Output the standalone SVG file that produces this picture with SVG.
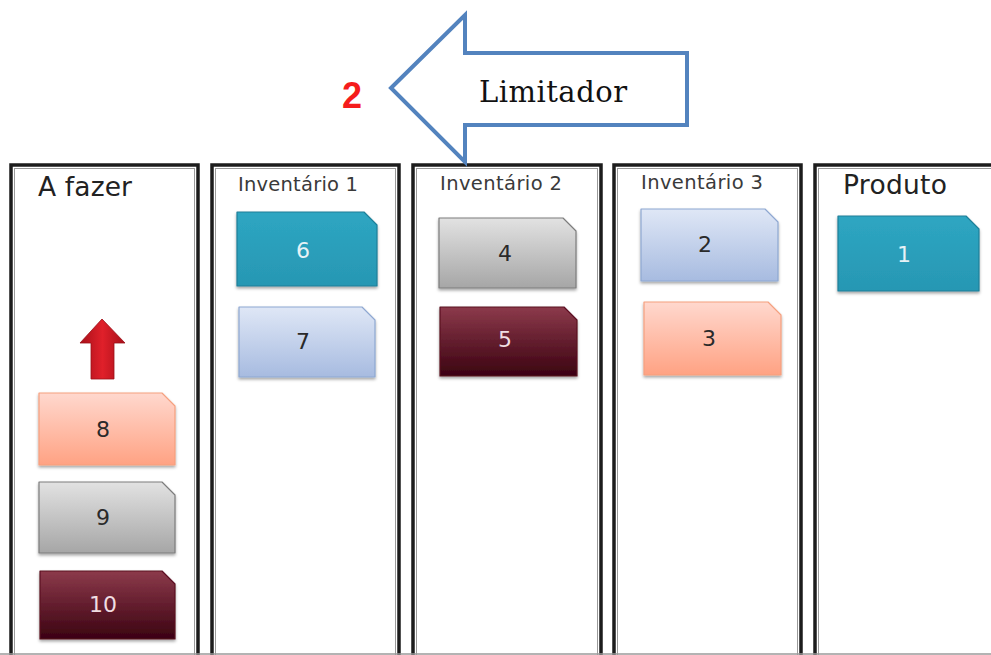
<svg xmlns="http://www.w3.org/2000/svg" width="991" height="655" viewBox="0 0 991 655">
<defs>
<linearGradient id="gTeal" x1="0" y1="0" x2="0" y2="1"><stop offset="0" stop-color="#2ea6c2"/><stop offset="1" stop-color="#2797b3"/></linearGradient>
<linearGradient id="gBlue" x1="0" y1="0" x2="0" y2="1"><stop offset="0" stop-color="#dfe7f6"/><stop offset="1" stop-color="#a7bbe0"/></linearGradient>
<linearGradient id="gSalmon" x1="0" y1="0" x2="0" y2="1"><stop offset="0" stop-color="#ffd8ce"/><stop offset="1" stop-color="#ffa283"/></linearGradient>
<linearGradient id="gGray" x1="0" y1="0" x2="0" y2="1"><stop offset="0" stop-color="#e2e2e2"/><stop offset="1" stop-color="#a6a6a6"/></linearGradient>
<linearGradient id="gMaroon" x1="0" y1="0" x2="0" y2="1"><stop offset="0" stop-color="#8c3a4b"/><stop offset="1" stop-color="#3b0211"/></linearGradient>
<linearGradient id="gRed" x1="0" y1="0" x2="1" y2="0"><stop offset="0" stop-color="#a8101a"/><stop offset="0.5" stop-color="#e0202a"/><stop offset="1" stop-color="#a8101a"/></linearGradient>
<filter id="sh" x="-10%" y="-10%" width="125%" height="130%"><feDropShadow dx="0" dy="2" stdDeviation="1.5" flood-color="#000" flood-opacity="0.35"/></filter>
</defs>
<style>
.col{fill:#fff;stroke:#1c1c1c;stroke-width:3.5}
.colin{fill:none;stroke:#9a9a9a;stroke-width:1}
.hdrL{font-family:"DejaVu Sans",sans-serif;font-size:26.5px;fill:#222}
.hdrS{font-family:"DejaVu Sans",sans-serif;font-size:19.5px;fill:#3a3a3a}
.card{filter:url(#sh);stroke-width:1.2;stroke-linejoin:round}
.num{font-family:"DejaVu Sans",sans-serif;font-size:22px;text-anchor:middle}
.dark{fill:#2a2a2a}
.light{fill:#e6f2f6}
.pink{fill:#f0dde1}
</style>
<rect width="991" height="655" fill="#fff"/>

<g id="col-afazer">
<rect class="col" x="11" y="165" width="187" height="510"/>
<rect class="colin" x="14.5" y="168.5" width="180" height="510"/>
<text class="hdrL" x="38" y="196" textLength="94">A fazer</text>
</g>
<g id="col-inv1">
<rect class="col" x="212" y="165" width="187" height="510"/>
<rect class="colin" x="215.5" y="168.5" width="180" height="510"/>
<text class="hdrS" x="238" y="191" textLength="120">Inventário 1</text>
</g>
<g id="col-inv2">
<rect class="col" x="413" y="165" width="188" height="510"/>
<rect class="colin" x="416.5" y="168.5" width="181" height="510"/>
<text class="hdrS" x="440" y="190" textLength="122">Inventário 2</text>
</g>
<g id="col-inv3">
<rect class="col" x="614" y="165" width="187" height="510"/>
<rect class="colin" x="617.5" y="168.5" width="180" height="510"/>
<text class="hdrS" x="641" y="189" textLength="122">Inventário 3</text>
</g>
<g id="col-produto">
<rect class="col" x="815" y="165" width="200" height="510"/>
<rect class="colin" x="818.5" y="168.5" width="200" height="510"/>
<text class="hdrL" x="843" y="194" textLength="104">Produto</text>
</g>
<line x1="0" y1="654" x2="991" y2="654" stroke="#9a9a9a" stroke-width="1.5"/>

<g id="card-6">
<path class="card" d="M237,212 H364 L377,225 V286 H237 Z" fill="url(#gTeal)" stroke="#1f7f98"/>
<text class="num light" x="303" y="258">6</text>
</g>
<g id="card-7">
<path class="card" d="M239,307 H362 L375,320 V377 H239 Z" fill="url(#gBlue)" stroke="#8ea7d1"/>
<text class="num dark" x="303" y="349">7</text>
</g>
<g id="card-8">
<path class="card" d="M39,393 H162 L175,406 V465 H39 Z" fill="url(#gSalmon)" stroke="#f5a07f"/>
<text class="num dark" x="103" y="437">8</text>
</g>
<g id="card-9">
<path class="card" d="M39,482 H162 L175,495 V553 H39 Z" fill="url(#gGray)" stroke="#7c7c7c"/>
<text class="num dark" x="103" y="525">9</text>
</g>
<g id="card-10">
<path class="card" d="M40,571 H162 L175,584 V639 H40 Z" fill="url(#gMaroon)" stroke="#5a1020"/>
<text class="num pink" x="103" y="612">10</text>
</g>
<g id="card-4">
<path class="card" d="M439,218 H563 L576,231 V288 H439 Z" fill="url(#gGray)" stroke="#7c7c7c"/>
<text class="num dark" x="505" y="261">4</text>
</g>
<g id="card-5">
<path class="card" d="M440,307 H564 L577,320 V376 H440 Z" fill="url(#gMaroon)" stroke="#5a1020"/>
<text class="num pink" x="505" y="347">5</text>
</g>
<g id="card-2">
<path class="card" d="M641,209 H765 L778,222 V281 H641 Z" fill="url(#gBlue)" stroke="#8ea7d1"/>
<text class="num dark" x="705" y="252">2</text>
</g>
<g id="card-3">
<path class="card" d="M644,302 H768 L781,315 V375 H644 Z" fill="url(#gSalmon)" stroke="#f5a07f"/>
<text class="num dark" x="709" y="346">3</text>
</g>
<g id="card-1">
<path class="card" d="M838,216 H966 L979,229 V291 H838 Z" fill="url(#gTeal)" stroke="#1f7f98"/>
<text class="num light" x="904" y="262">1</text>
</g>

<g id="red-arrow">
<path d="M102,319 L125,343 H114 V379 H91 V343 H80 Z" fill="url(#gRed)" stroke="#9a0f18" stroke-width="0.8"/>
</g>

<g id="limitador">
<polygon points="391,88 465,15 465,53 687,53 687,125 465,125 465,162" fill="#fff" stroke="#5383be" stroke-width="4" stroke-linejoin="miter"/>
<text x="479" y="102" font-family="DejaVu Serif, serif" font-size="29" fill="#111" textLength="148">Limitador</text>
</g>
<text id="limit-num" x="342" y="108" font-family="Liberation Sans, Arial, sans-serif" font-weight="bold" font-size="36" fill="#f51c1c">2</text>
</svg>
